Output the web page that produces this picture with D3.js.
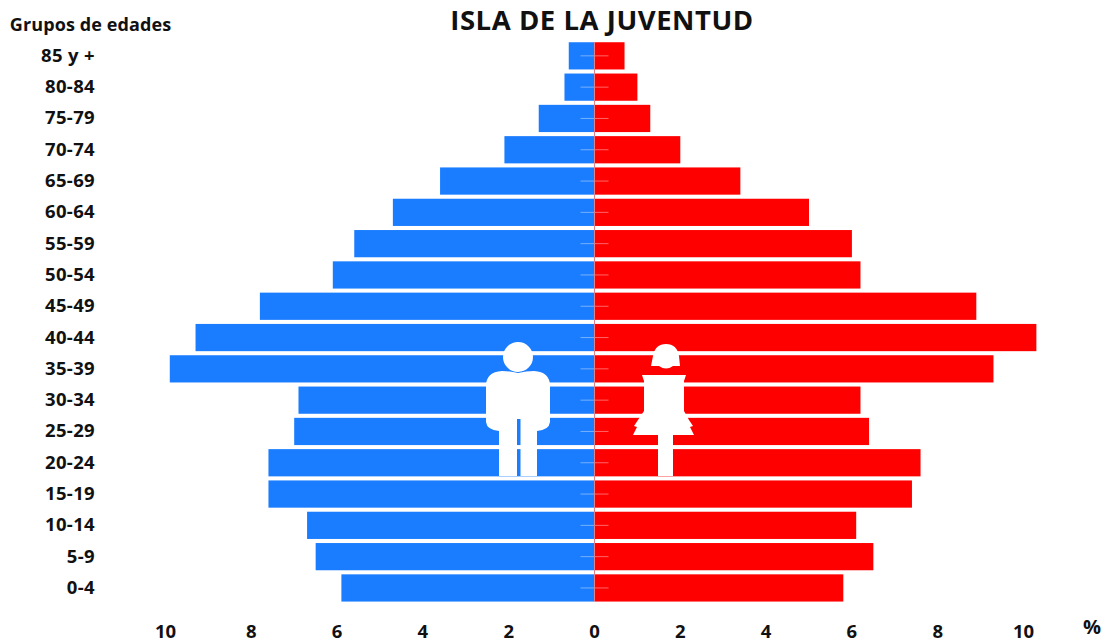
<!DOCTYPE html>
<html><head><meta charset="utf-8">
<script src="https://cdn.jsdelivr.net/npm/d3@7"></script>
<style>html,body{margin:0;padding:0;background:#fff}svg{display:block}text{font-family:"Open Sans",sans-serif;font-weight:700;fill:#111}</style>
</head><body><svg id="c" width="1107" height="643"></svg>
<script>
const ageGroups=["85 y +","80-84","75-79","70-74","65-69","60-64","55-59","50-54","45-49","40-44","35-39","30-34","25-29","20-24","15-19","10-14","5-9","0-4"];
const male=[0.6,0.7,1.3,2.1,3.6,4.7,5.6,6.1,7.8,9.3,9.9,6.9,7.0,7.6,7.6,6.7,6.5,5.9];
const female=[0.7,1.0,1.3,2.0,3.4,5.0,6.0,6.2,8.9,10.3,9.3,6.2,6.4,7.6,7.4,6.1,6.5,5.8];
const xTicks=[-10,-8,-6,-4,-2,0,2,4,6,8,10];
const svg=d3.select("#c");
const x=d3.scaleLinear().domain([-10,10]).range([165.5,1023.5]);
const y=d3.scaleBand().domain(ageGroups).range([40.2,603.6]).paddingInner(0.13).paddingOuter(0.065);
const bars=svg.append("g");
bars.selectAll(".m").data(male).join("rect").attr("x",d=>x(-d)).attr("width",d=>x(0)-x(-d)).attr("y",(d,i)=>y(ageGroups[i])).attr("height",y.bandwidth()).attr("fill","#1a7dff");
bars.selectAll(".f").data(female).join("rect").attr("x",x(0)).attr("width",d=>x(d)-x(0)).attr("y",(d,i)=>y(ageGroups[i])).attr("height",y.bandwidth()).attr("fill","#ff0000");
svg.append("g").selectAll("line").data(ageGroups).join("line")
 .attr("x1",x(0)-14).attr("x2",x(0)+14).attr("y1",d=>y(d)+y.bandwidth()/2).attr("y2",d=>y(d)+y.bandwidth()/2)
 .attr("stroke","#fff").attr("stroke-opacity",0.4).attr("stroke-width",1);
svg.append("line").attr("x1",x(0)).attr("x2",x(0)).attr("y1",y(ageGroups[0])).attr("y2",y.range()[1]-3).attr("stroke","#e0808a").attr("stroke-width",1);
// icons
svg.append("circle").attr("cx",518).attr("cy",357).attr("r",15).attr("fill","#fff");
svg.append("path").attr("fill","#fff").attr("d","M502 371 Q510 371 518 373 Q526 371 534 371 Q550 372 550 386 V422 Q549 430 537 431 V476 H520.5 V419 H517 V476 H499 V431 Q487 430 486 422 V386 Q486 372 502 371 Z");
svg.append("path").attr("fill","#fff").attr("d","M666 344 Q677 344 679 356 L680 366 H673 Q666 371 659 366 H651 L653 356 Q655 344 666 344 Z");
svg.append("path").attr("fill","#fff").attr("d","M642 375 H686 L684 381 V411 L689 420 L693 426 L690 427 L694 435 H673 V476 H658 V435 H633 L637 427 L634 426 L638 420 L644 411 V381 Z");
// labels
svg.append("text").attr("x",90.5).attr("y",31).attr("text-anchor","middle").attr("font-size",18).attr("letter-spacing",0.1).text("Grupos de edades");
svg.append("g").selectAll("text").data(ageGroups).join("text").attr("x",95).attr("text-anchor","end").attr("font-size",18.5).attr("letter-spacing",0.35)
 .attr("y",d=>y(d)+y.bandwidth()/2+6).text(d=>d);
svg.append("g").selectAll("text").data(xTicks).join("text").attr("x",d=>x(d)).attr("y",638).attr("text-anchor","middle").attr("font-size",18.5).text(d=>Math.abs(d));
svg.append("text").attr("x",1092).attr("y",634).attr("text-anchor","middle").attr("font-size",20).text("%");
svg.append("text").attr("x",602).attr("y",30).attr("text-anchor","middle").attr("font-size",27.5).attr("letter-spacing",0.55).text("ISLA DE LA JUVENTUD");
</script></body></html>
